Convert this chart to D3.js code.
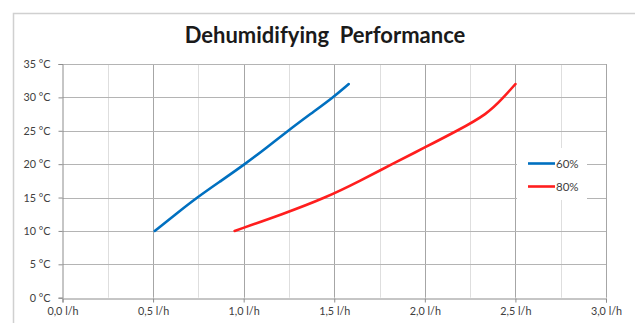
<!DOCTYPE html>
<html><head><meta charset="utf-8">
<script src="https://cdn.jsdelivr.net/npm/d3@7"></script>
<style>
html,body{margin:0;padding:0;background:#fff;}
svg{display:block;}
</style></head>
<body>
<svg id="chart" width="635" height="323"></svg>
<script>
const title = "Dehumidifying  Performance";
const xTicks = [0, 0.5, 1.0, 1.5, 2.0, 2.5, 3.0];
const xMinor = [0.25, 0.75, 1.25, 1.75, 2.25, 2.75];
const yTicks = [0, 5, 10, 15, 20, 25, 30, 35];
const seriesNames = ["60%", "80%"];
const seriesColors = ["#0070C0", "#FF1E1E"];
const rate60 = [0.509, 0.625, 0.742, 0.875, 1.007, 1.128, 1.245, 1.368, 1.494, 1.58];
const temp60 = [10, 12.5, 15, 17.5, 20, 22.5, 25, 27.5, 30, 32];
const rate80 = [0.95, 1.215, 1.455, 1.643, 1.818, 2.0, 2.179, 2.345, 2.435, 2.5];
const temp80 = [10, 12.5, 15, 17.5, 20, 22.5, 25, 27.5, 30, 32];

const svg = d3.select("#chart");
const font = "Lato, 'Open Sans', sans-serif";
const m = {left: 62.5, right: 606, top: 64, bottom: 297.7};
const x = d3.scaleLinear().domain([0, 3]).range([m.left, m.right]);
const y = d3.scaleLinear().domain([0, 35]).range([m.bottom, m.top]);

// chart frame
svg.append("path").attr("d", `M13.5,330 V13.5 H640`).attr("fill", "none")
  .attr("stroke", "#d0d0d0").attr("stroke-width", 1.5);

svg.append("text").attr("x", 325).attr("y", 43).attr("text-anchor", "middle")
  .attr("font-family", font).attr("font-weight", "bold").attr("font-size", 22)
  .attr("fill", "#1a1a1a").style("white-space", "pre").text(title);

// minor vertical grid
svg.append("g").selectAll("line").data(xMinor).join("line")
  .attr("x1", d => Math.round(x(d)) + 0.5).attr("x2", d => Math.round(x(d)) + 0.5)
  .attr("y1", m.top).attr("y2", m.bottom).attr("stroke", "#dedede").attr("stroke-width", 1);
// major vertical grid
svg.append("g").selectAll("line").data(xTicks.slice(1)).join("line")
  .attr("x1", d => Math.round(x(d)) + 0.5).attr("x2", d => Math.round(x(d)) + 0.5)
  .attr("y1", m.top).attr("y2", m.bottom).attr("stroke", "#a6a6a6").attr("stroke-width", 1);
// horizontal grid
svg.append("g").selectAll("line").data(yTicks.slice(1)).join("line")
  .attr("x1", m.left).attr("x2", m.right)
  .attr("y1", d => Math.round(y(d)) + 0.5).attr("y2", d => Math.round(y(d)) + 0.5)
  .attr("stroke", "#b4b4b4").attr("stroke-width", 1);

// axes
const yAxis = d3.axisLeft(y).tickValues(yTicks).tickSize(4).tickPadding(8)
  .tickFormat(d => d + " °C");
const gy = svg.append("g").attr("transform", `translate(${Math.round(m.left) - 0.5},0)`).call(yAxis);
const xAxis = d3.axisBottom(x).tickValues(xTicks).tickSize(4).tickPadding(5)
  .tickFormat(d => d3.format(".1f")(d).replace(".", ",") + " l/h");
const gx = svg.append("g").attr("transform", `translate(0,${Math.round(m.bottom) + 0.5})`).call(xAxis);
[gx, gy].forEach(g => {
  g.select(".domain").attr("stroke", "#8c8c8c");
  g.selectAll(".tick line").attr("stroke", "#8c8c8c");
  g.selectAll("text").attr("font-family", font).attr("font-size", 10.8).attr("fill", "#404040");
});

// legend background
svg.append("rect").attr("x", 517).attr("y", 148).attr("width", 70).attr("height", 52).attr("fill", "#fff");

const line = d3.line().x(d => x(d[0])).y(d => y(d[1])).curve(d3.curveBasis);
const series = [d3.zip(rate60, temp60), d3.zip(rate80, temp80)];
series.forEach((s, i) => {
  svg.append("path").datum(s).attr("d", line).attr("fill", "none")
    .attr("stroke", seriesColors[i]).attr("stroke-width", 2.6).attr("stroke-linecap", "round");
});

// legend
const lg = svg.append("g");
seriesNames.forEach((n, i) => {
  const ly = 163.5 + i * 23;
  lg.append("line").attr("x1", 528).attr("x2", 555).attr("y1", ly).attr("y2", ly)
    .attr("stroke", seriesColors[i]).attr("stroke-width", 2.6);
  lg.append("text").attr("x", 556).attr("y", ly + 4).attr("font-family", font)
    .attr("font-size", 11.5).attr("fill", "#404040").text(n);
});
</script>
</body></html>
